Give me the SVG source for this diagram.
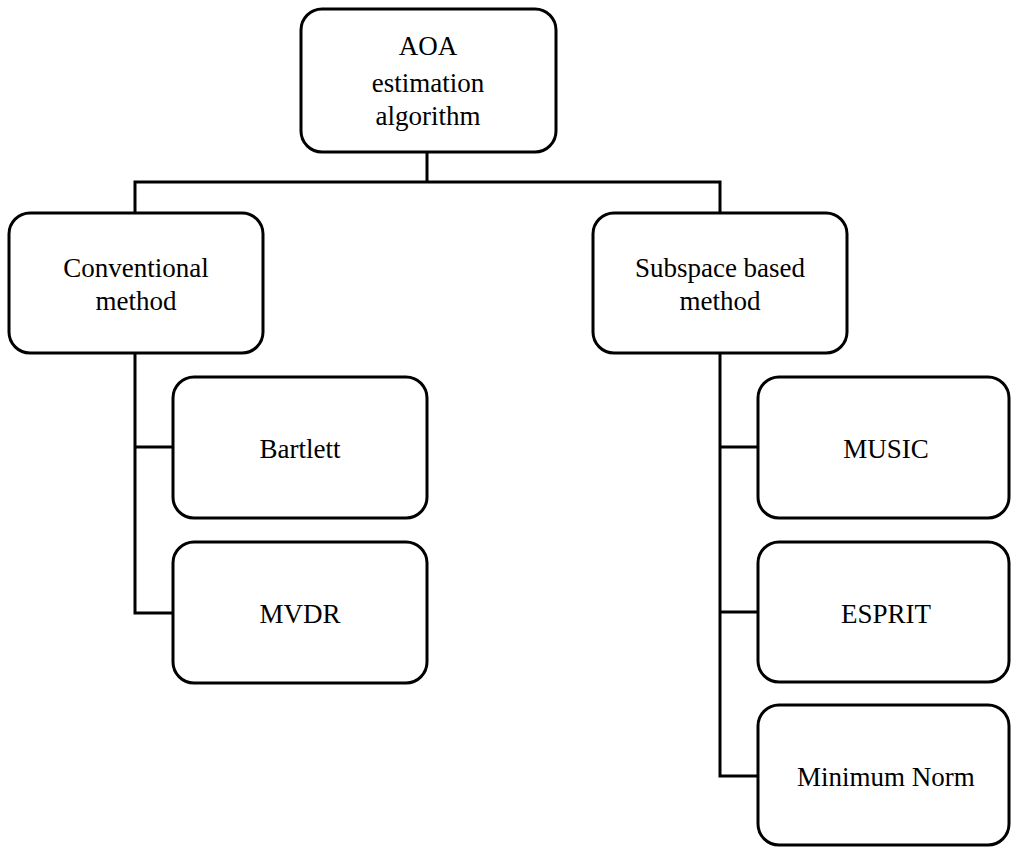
<svg xmlns="http://www.w3.org/2000/svg" width="1011" height="847" viewBox="0 0 1011 847">
<style>
.box{fill:#fff;stroke:#000;stroke-width:3}
.ln{fill:none;stroke:#000;stroke-width:3}
text{font-family:"Liberation Serif","Times New Roman",serif;font-size:27px;fill:#000;text-anchor:middle}
</style>
<rect width="1011" height="847" fill="#fff"/>
<g id="connectors">
<path class="ln" d="M427,152 V182 M135,213 V182 H720 V213"/>
<path class="ln" d="M135,353 V613 H173 M135,447 H173"/>
<path class="ln" d="M720,353 V776 H758 M720,447 H758 M720,612 H758"/>
</g>
<g id="root"><rect class="box" x="301" y="9" width="255" height="143" rx="21"/>
<text x="428" y="55">AOA</text><text x="428" y="92">estimation</text><text x="428" y="125">algorithm</text></g>
<g id="conventional"><rect class="box" x="9" y="213" width="254" height="140" rx="21"/>
<text x="136" y="277">Conventional</text><text x="136" y="310">method</text></g>
<g id="subspace"><rect class="box" x="593" y="213" width="254" height="140" rx="21"/>
<text x="720" y="277">Subspace based</text><text x="720" y="310">method</text></g>
<g id="bartlett"><rect class="box" x="173" y="377" width="254" height="141" rx="21"/>
<text x="300" y="458">Bartlett</text></g>
<g id="mvdr"><rect class="box" x="173" y="542" width="254" height="141" rx="21"/>
<text x="300" y="623">MVDR</text></g>
<g id="music"><rect class="box" x="758" y="377" width="251" height="141" rx="21"/>
<text x="886" y="458">MUSIC</text></g>
<g id="esprit"><rect class="box" x="758" y="542" width="251" height="140" rx="21"/>
<text x="886" y="623">ESPRIT</text></g>
<g id="minnorm"><rect class="box" x="758" y="705" width="251" height="140" rx="21"/>
<text x="886" y="786">Minimum Norm</text></g>
</svg>
